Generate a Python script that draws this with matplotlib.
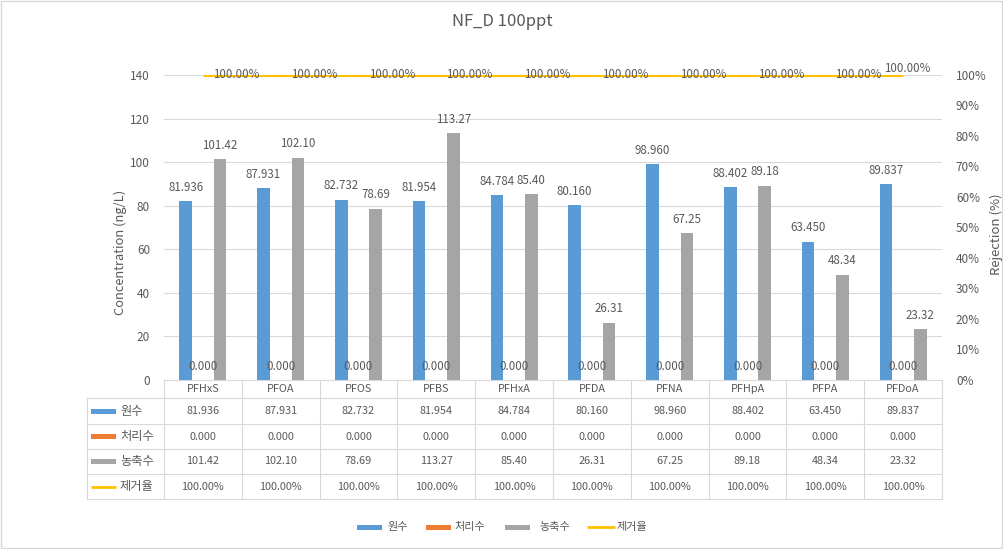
import matplotlib
matplotlib.use("Agg")
import matplotlib.pyplot as plt
from matplotlib.patches import Rectangle
from matplotlib.lines import Line2D
from matplotlib.transforms import blended_transform_factory
import numpy as np

plt.rcParams['font.family'] = ['Noto Sans CJK KR', 'DejaVu Sans']

categories = ["PFHxS", "PFOA", "PFOS", "PFBS", "PFHxA", "PFDA", "PFNA", "PFHpA", "PFPA", "PFDoA"]
raw = [81.936, 87.931, 82.732, 81.954, 84.784, 80.160, 98.960, 88.402, 63.450, 89.837]
treated = [0.000] * 10
concentrate = [101.42, 102.10, 78.69, 113.27, 85.40, 26.31, 67.25, 89.18, 48.34, 23.32]
rejection = [1.0] * 10
series_names = ["원수", "처리수", "농축수", "제거율"]
title = "NF_D 100ppt"

C_BLUE = "#5B9BD5"
C_ORANGE = "#ED7D31"
C_GRAY = "#A5A5A5"
C_YELLOW = "#FFC000"
C_TEXT = "#595959"
C_GRID = "#D9D9D9"

W, H = 1004, 549
fig = plt.figure(figsize=(W / 100, H / 100), dpi=100)

def fx(px):
    return px / W

def fy(py):
    return 1 - py / H

ax_l, ax_r, ax_t, ax_b = 164, 942, 75, 380
ax = fig.add_axes([fx(ax_l), fy(ax_b), (ax_r - ax_l) / W, (ax_b - ax_t) / H])
ax_h = ax_b - ax_t

x = np.arange(len(categories))
off, bw = 0.221, 0.163
ax.bar(x - off, raw, width=bw, color=C_BLUE, zorder=3)
ax.bar(x, treated, width=bw, color=C_ORANGE, zorder=3)
ax.bar(x + off, concentrate, width=bw, color=C_GRAY, zorder=3)

ax.set_xlim(-0.5, len(categories) - 0.5)
ax.set_ylim(0, 140)
ax.set_yticks(np.arange(0, 141, 20))
ax.set_xticks([])
ax.grid(axis='y', color=C_GRID, lw=0.8, zorder=0)
ax.set_axisbelow(True)
for s in ["left", "right", "top"]:
    ax.spines[s].set_visible(False)
ax.spines["bottom"].set_color(C_GRID)
ax.spines["bottom"].set_linewidth(0.8)
ax.tick_params(axis='y', length=0, pad=10, labelsize=8.5, labelcolor=C_TEXT)

lbl_fs = 8.3
for xi, v in zip(x, raw):
    ax.annotate(f"{v:.3f}", (xi - off, v), xytext=(0, 10), textcoords="offset points",
                ha="center", va="center", fontsize=lbl_fs, color=C_TEXT, zorder=5)
for xi, v in zip(x, treated):
    ax.annotate(f"{v:.3f}", (xi, v), xytext=(0, 10), textcoords="offset points",
                ha="center", va="center", fontsize=lbl_fs, color=C_TEXT, zorder=5)
for xi, v in zip(x, concentrate):
    ax.annotate(f"{v:.2f}", (xi + off, v), xytext=(0, 10), textcoords="offset points",
                ha="center", va="center", fontsize=lbl_fs, color=C_TEXT, zorder=5)

ax2 = ax.twinx()
ax2.set_ylim(0, 1.0)
ax2.set_yticks(np.arange(0, 1.01, 0.1))
ax2.set_yticklabels([f"{int(round(t * 100))}%" for t in np.arange(0, 1.01, 0.1)])
for s in ["left", "right", "top", "bottom"]:
    ax2.spines[s].set_visible(False)
ax2.tick_params(axis='y', length=0, pad=10, labelsize=8.5, labelcolor=C_TEXT)
ax2.plot(x, rejection, color=C_YELLOW, lw=2.2, zorder=4, solid_capstyle='butt')
for i, (xi, v) in enumerate(zip(x, rejection)):
    if i == len(x) - 1:
        dx, dy = 3, 5
    else:
        dx, dy = 24, 0
    ax2.annotate(f"{v * 100:.2f}%", (xi, v), xytext=(dx, dy), textcoords="offset points",
                 ha="center", va="center", fontsize=lbl_fs, color=C_TEXT, zorder=6,
                 annotation_clip=False)

# data table
trans = blended_transform_factory(ax.transData, ax.transAxes)

def ay(py):
    return (ax_b - py) / ax_h

col_w = (ax_r - ax_l) / len(categories)
def dx_(px):
    return (px - ax_l) / col_w - 0.5

tab_left = dx_(87)
row_lines = [398, 424, 449, 474, 499]
for py in row_lines:
    ax.plot([tab_left, len(categories) - 0.5], [ay(py)] * 2, transform=trans,
            color=C_GRID, lw=0.8, clip_on=False)
ax.plot([tab_left, tab_left], [ay(398), ay(499)], transform=trans, color=C_GRID, lw=0.8, clip_on=False)
for k in range(len(categories) + 1):
    ax.plot([k - 0.5, k - 0.5], [ay(380), ay(499)], transform=trans,
            color=C_GRID, lw=0.8, clip_on=False)

tab_fs = 7.8
hdr_y = ay((380 + 398) / 2)
for xi, c in zip(x, categories):
    ax.text(xi, hdr_y, c, transform=trans, ha="center", va="center", fontsize=tab_fs, color=C_TEXT)

row_centers = [(row_lines[i] + row_lines[i + 1]) / 2 for i in range(4)]
row_texts = [
    [f"{v:.3f}" for v in raw],
    [f"{v:.3f}" for v in treated],
    [f"{v:.2f}" for v in concentrate],
    [f"{v * 100:.2f}%" for v in rejection],
]
row_colors = [C_BLUE, C_ORANGE, C_GRAY, C_YELLOW]
for r in range(4):
    yc = ay(row_centers[r])
    for xi, t in zip(x, row_texts[r]):
        ax.text(xi, yc, t, transform=trans, ha="center", va="center", fontsize=tab_fs, color=C_TEXT)
    kx0, kx1 = dx_(91), dx_(116)
    if r < 3:
        ax.add_patch(Rectangle((kx0, yc - 2.5 / ax_h), kx1 - kx0, 5 / ax_h, transform=trans,
                               color=row_colors[r], clip_on=False, lw=0))
    else:
        ax.plot([kx0, kx1], [yc, yc], transform=trans, color=row_colors[r], lw=2, clip_on=False,
                solid_capstyle='butt')
    ax.text(dx_(120), yc, series_names[r], transform=trans, ha="left", va="center",
            fontsize=8.8, color=C_TEXT)

# axis titles
fig.text(fx(120), fy(252), "Concentration (ng/L)", rotation=90, ha="center", va="center",
         fontsize=9.3, color=C_TEXT)
fig.text(fx(996), fy(234), "Rejection (%)", rotation=90, ha="center", va="center",
         fontsize=9.5, color=C_TEXT)
fig.text(0.5, fy(22), title, ha="center", va="center", fontsize=12, color=C_TEXT)

# bottom legend
leg_y = 527
keys = [(357, 382, 388), (426, 451, 454), (505, 530, 539), (587, 615, 617)]
for i, (k0, k1, tx) in enumerate(keys):
    if i < 3:
        fig.add_artist(Rectangle((fx(k0), fy(leg_y + 2.5)), (k1 - k0) / W, 5 / H,
                                 transform=fig.transFigure, color=row_colors[i], lw=0))
    else:
        fig.add_artist(Line2D([fx(k0), fx(k1)], [fy(leg_y), fy(leg_y)], transform=fig.transFigure,
                              color=row_colors[i], lw=2, solid_capstyle='butt'))
    fig.text(fx(tx), fy(leg_y), series_names[i], ha="left", va="center", fontsize=8, color=C_TEXT)

fig.add_artist(Rectangle((0.0005, 0.001), 0.998, 0.997, transform=fig.transFigure, fill=False,
                         edgecolor=C_GRID, lw=1))

fig.savefig("out.png", dpi=100)
